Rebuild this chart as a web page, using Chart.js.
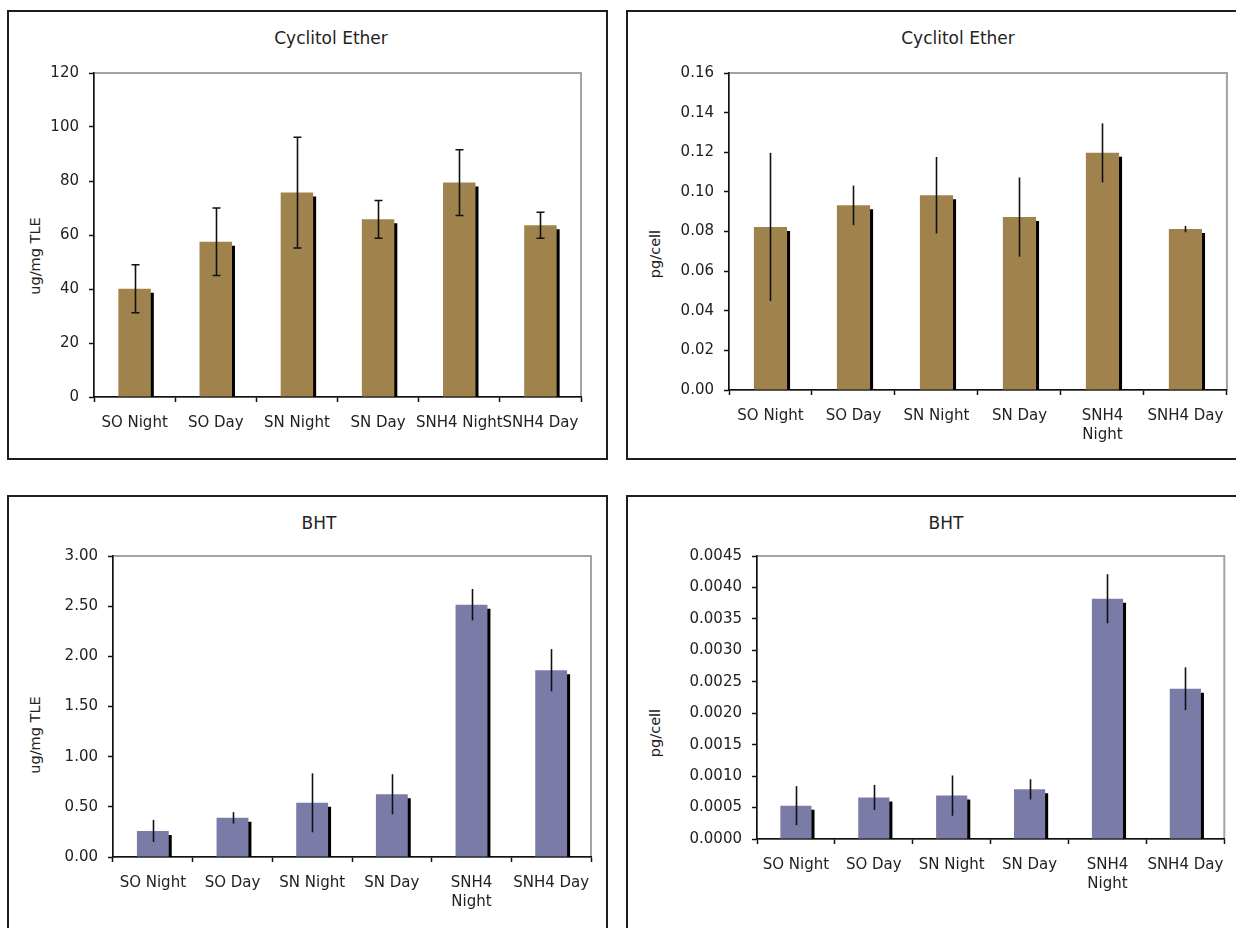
<!DOCTYPE html>
<html>
<head>
<meta charset="utf-8">
<title>Cyclitol Ether and BHT</title>
<script src="https://cdn.jsdelivr.net/npm/chart.js@4.4.1/dist/chart.umd.min.js"></script>
<style>
  html, body { margin: 0; padding: 0; background: #fff; }
  body { width: 1236px; height: 928px; position: relative; overflow: hidden; font-family: "DejaVu Sans", Verdana, sans-serif; color: #222; }
  .box { position: absolute; box-sizing: border-box; border: 2px solid #1e1e1e; }
  canvas { position: absolute; }
  .title { position: absolute; font-size: 17px; white-space: nowrap; transform: translate(-50%, -50%); }
  .ytitle { position: absolute; font-size: 14.5px; white-space: nowrap; transform: translate(-50%, -50%) rotate(-90deg); }
</style>
</head>
<body>
<div class="box" style="left:7px; top:10px; width:601px; height:450px;"></div>
<div class="box" style="left:626px; top:10px; width:700px; height:450px;"></div>
<div class="box" style="left:7px; top:495px; width:601px; height:600px;"></div>
<div class="box" style="left:626px; top:495px; width:700px; height:600px;"></div>

<div class="title" style="left:331px; top:38px;">Cyclitol Ether</div>
<div class="title" style="left:958px; top:38px;">Cyclitol Ether</div>
<div class="title" style="left:319px; top:523px;">BHT</div>
<div class="title" style="left:946px; top:523px;">BHT</div>

<div class="ytitle" style="left:35px; top:256px;">ug/mg TLE</div>
<div class="ytitle" style="left:655px; top:254px;">pg/cell</div>
<div class="ytitle" style="left:35px; top:735px;">ug/mg TLE</div>
<div class="ytitle" style="left:655px; top:733px;">pg/cell</div>

<canvas id="cycTle"></canvas>
<canvas id="cycCell"></canvas>
<canvas id="bhtTle"></canvas>
<canvas id="bhtCell"></canvas>

<script>
// Sample groups (x axis)
const categories = ['SO Night', 'SO Day', 'SN Night', 'SN Day', 'SNH4 Night', 'SNH4 Day'];
const categoriesWrapped = ['SO Night', 'SO Day', 'SN Night', 'SN Day', ['SNH4', 'Night'], 'SNH4 Day'];

// Cyclitol ether, ug/mg TLE (mean and +/- error)
const cycTleValues = [40.1, 57.5, 75.7, 65.8, 79.4, 63.6];
const cycTleErrors = [8.9, 12.5, 20.5, 7.0, 12.2, 4.8];
const cycTleTicks = [0, 20, 40, 60, 80, 100, 120];

// Cyclitol ether, pg/cell
const cycCellValues = [0.0823, 0.0932, 0.0983, 0.0873, 0.1197, 0.0812];
const cycCellErrors = [0.0374, 0.0100, 0.0193, 0.0200, 0.0149, 0.0016];
const cycCellTicks = [0, 0.02, 0.04, 0.06, 0.08, 0.10, 0.12, 0.14, 0.16];

// BHT, ug/mg TLE
const bhtTleValues = [0.26, 0.39, 0.54, 0.625, 2.515, 1.862];
const bhtTleErrors = [0.11, 0.057, 0.294, 0.200, 0.156, 0.210];
const bhtTleTicks = [0, 0.5, 1.0, 1.5, 2.0, 2.5, 3.0];

// BHT, pg/cell
const bhtCellValues = [0.00053, 0.00066, 0.00069, 0.00079, 0.00382, 0.00239];
const bhtCellErrors = [0.00031, 0.00020, 0.00032, 0.00016, 0.00039, 0.00034];
const bhtCellTicks = [0, 0.0005, 0.0010, 0.0015, 0.0020, 0.0025, 0.0030, 0.0035, 0.0040, 0.0045];

const BROWN = '#a0834c';
const PURPLE = '#7b7ba8';
const FONT = '"DejaVu Sans", Verdana, sans-serif';

// Gray frame around the plot area (left/bottom get overdrawn by the black axes)
const plotFrame = {
  id: 'plotFrame',
  beforeDraw(chart) {
    const { ctx, chartArea: a } = chart;
    ctx.save();
    ctx.strokeStyle = '#a3a3a3';
    ctx.lineWidth = 2;
    ctx.strokeRect(a.left, a.top, a.right - a.left, a.bottom - a.top);
    ctx.restore();
  }
};

// Hard black drop shadow behind each bar
const barShadow = {
  id: 'barShadow',
  beforeDatasetDraw(chart) {
    const ctx = chart.ctx;
    ctx.save();
    ctx.shadowColor = '#000';
    ctx.shadowOffsetX = 3;
    ctx.shadowOffsetY = 4;
    ctx.shadowBlur = 0;
  },
  afterDatasetDraw(chart) {
    chart.ctx.restore();
  }
};

// Symmetric error bars taken from the plugin options
const errorBars = {
  id: 'errorBars',
  afterDatasetsDraw(chart, args, opts) {
    const errs = opts.errors;
    if (!errs) return;
    const ctx = chart.ctx;
    const y = chart.scales.y;
    const ds = chart.data.datasets[0];
    const meta = chart.getDatasetMeta(0);
    ctx.save();
    ctx.strokeStyle = '#111';
    ctx.lineWidth = 1.6;
    meta.data.forEach((bar, i) => {
      const v = ds.data[i];
      const yHi = y.getPixelForValue(v + errs[i]);
      const yLo = y.getPixelForValue(v - errs[i]);
      const x = Math.round(bar.x) + 0.5;
      ctx.beginPath();
      ctx.moveTo(x, yHi);
      ctx.lineTo(x, yLo);
      if (opts.cap) {
        ctx.moveTo(x - opts.cap, yHi);
        ctx.lineTo(x + opts.cap, yHi);
        ctx.moveTo(x - opts.cap, yLo);
        ctx.lineTo(x + opts.cap, yLo);
      }
      ctx.stroke();
    });
    ctx.restore();
  }
};

function buildChart(id, spec) {
  const [cx, cy, cw, ch] = spec.canvas;
  const [l, t, r, b] = spec.plot;
  const el = document.getElementById(id);
  el.width = cw; el.height = ch;
  el.style.left = cx + 'px'; el.style.top = cy + 'px';
  el.style.width = cw + 'px'; el.style.height = ch + 'px';
  const ticks = spec.ticks;
  return new Chart(el, {
    type: 'bar',
    data: {
      labels: spec.labels,
      datasets: [{
        data: spec.values,
        backgroundColor: spec.color,
        borderWidth: 0,
        barPercentage: 0.4,
        categoryPercentage: 1.0
      }]
    },
    options: {
      responsive: false,
      animation: false,
      devicePixelRatio: 1,
      layout: { padding: { left: 0, top: t - cy, right: cx + cw - r, bottom: 0 } },
      plugins: {
        legend: { display: false },
        title: { display: false },
        tooltip: { enabled: false },
        errorBars: { errors: spec.errors, cap: spec.cap || 0 }
      },
      scales: {
        x: {
          offset: true,
          grid: { offset: true, drawOnChartArea: false, drawTicks: true, tickLength: 5, tickColor: '#111', tickWidth: 1.5 },
          border: { display: true, color: '#111', width: 1.5 },
          ticks: {
            autoSkip: false, maxRotation: 0, minRotation: 0, padding: 12,
            color: '#222', font: { family: FONT, size: 15, lineHeight: 1.25 }
          },
          afterFit(scale) { scale.height = cy + ch - b; }
        },
        y: {
          min: ticks[0],
          max: ticks[ticks.length - 1],
          afterBuildTicks(scale) { scale.ticks = ticks.map(v => ({ value: v })); },
          grid: { drawOnChartArea: false, drawTicks: true, tickLength: 5, tickColor: '#111', tickWidth: 1.5 },
          border: { display: true, color: '#111', width: 1.5 },
          ticks: {
            padding: 10,
            color: '#222',
            font: { family: FONT, size: 15 },
            callback: v => Number(v).toFixed(spec.decimals)
          },
          afterFit(scale) { scale.width = l - cx; }
        }
      }
    },
    plugins: [plotFrame, barShadow, errorBars]
  });
}

buildChart('cycTle', {
  canvas: [9, 12, 597, 446], plot: [94, 73, 581, 397],
  labels: categories, values: cycTleValues, errors: cycTleErrors,
  ticks: cycTleTicks, decimals: 0, color: BROWN, cap: 4
});
buildChart('cycCell', {
  canvas: [628, 12, 608, 446], plot: [729, 73, 1229, 390],
  labels: categoriesWrapped, values: cycCellValues, errors: cycCellErrors,
  ticks: cycCellTicks, decimals: 2, color: BROWN
});
buildChart('bhtTle', {
  canvas: [9, 497, 597, 431], plot: [113, 556, 591, 857],
  labels: categoriesWrapped, values: bhtTleValues, errors: bhtTleErrors,
  ticks: bhtTleTicks, decimals: 2, color: PURPLE
});
buildChart('bhtCell', {
  canvas: [628, 497, 608, 431], plot: [757, 556, 1228, 839],
  labels: categoriesWrapped, values: bhtCellValues, errors: bhtCellErrors,
  ticks: bhtCellTicks, decimals: 4, color: PURPLE
});
</script>
</body>
</html>
